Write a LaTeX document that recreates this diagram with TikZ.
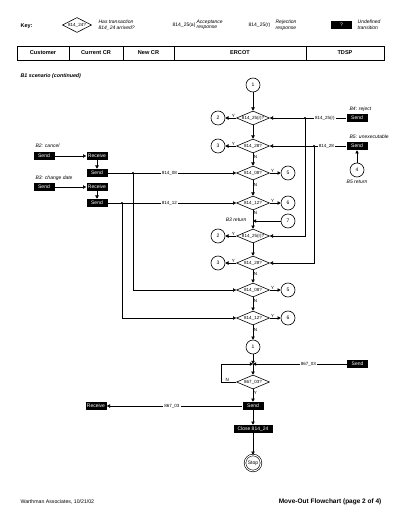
\documentclass[tikz,border=0pt]{standalone}
\usepackage{fontspec}
\setmainfont{Liberation Sans}
\usetikzlibrary{shapes.geometric,arrows.meta}
\begin{document}
\begin{tikzpicture}[x=1pt,y=-1pt, line width=0.6pt,
  font=\fontsize{5}{5.6}\selectfont,
  dia/.style={diamond, draw, fill=white, minimum width=33pt, minimum height=14pt, inner sep=0pt},
  dtx/.style={font=\fontsize{4.5}{5}\selectfont, inner sep=0pt},
  blk/.style={fill=black, text=white, minimum width=21pt, minimum height=8pt, inner sep=0pt},
  circ/.style={circle, draw, fill=white, minimum size=14pt, inner sep=0pt},
  yn/.style={font=\fontsize{4.5}{5}\selectfont, inner sep=0.5pt},
  lbl/.style={fill=white, inner sep=1.2pt, font=\fontsize{4.5}{5}\selectfont},
  arr/.style={-{Triangle[length=3.2pt,width=3.4pt]}},
  dot/.style={circle, fill, inner sep=0pt, minimum size=2.4pt},
  it/.style={font=\fontsize{5}{5.6}\selectfont\itshape},
  hdr/.style={draw, minimum height=14pt, inner sep=0pt, font=\fontsize{5.6}{6}\selectfont\bfseries}]
\useasboundingbox (0,0) rectangle (400,518);

% key
\node[anchor=west, font=\fontsize{5.5}{6}\selectfont\bfseries] (key) at (17,26) {Key:};
\node[dia, minimum width=29pt, minimum height=15pt, label={[dtx]center:{814\_24?}}] (kd) at (77,25) {};
\node[anchor=west, align=left, it] (kdt) at (95,25) {Has transaction\\814\_24 arrived?};
\node[anchor=west] (ka) at (169,25) {814\_25(a)};
\node[anchor=west, align=left, it] (kat) at (193,25) {Acceptance\\response};
\node[anchor=west] (kr) at (245,25) {814\_25(r)};
\node[anchor=west, align=left, it] (krt) at (272,25) {Rejection\\response};
\node[blk] (kq) at (341.5,25) {?};
\node[anchor=west, align=left, it] (kqt) at (354,25) {Undefined\\transition};

% header
\node[hdr, minimum width=52pt] (hcu) at (43,53) {Customer};
\node[hdr, minimum width=54pt] (hcc) at (96,53) {Current CR};
\node[hdr, minimum width=51pt] (hnc) at (148.5,53) {New CR};
\node[hdr, minimum width=132pt] (her) at (240,53) {ERCOT};
\node[hdr, minimum width=78pt] (htd) at (345,53) {TDSP};

\node[anchor=west, font=\fontsize{5.3}{6}\selectfont\bfseries\itshape] (ttl) at (17,76) {B1 scenario (continued)};

% main column
\node[circ] (c1) at (253,85) {1};
\node[dia, label={[dtx]center:{814\_25(r)?}}] (d1) at (253,118) {};
\node[circ] (c2a) at (218,118) {2};
\node[dia, label={[dtx]center:{814\_28?}}] (d2) at (253,146) {};
\node[circ] (c3a) at (218,146) {3};
\node[dia, label={[dtx]center:{814\_08?}}] (d3) at (253,173) {};
\node[circ] (c5a) at (288,173) {5};
\node[dia, label={[dtx]center:{814\_12?}}] (d4) at (253,203) {};
\node[circ] (c6a) at (288,203) {6};
\node[circ] (c7) at (288,221) {7};
\coordinate (j7) at (253,221);
\node[it, anchor=east] (b3r) at (250,219.5) {B3 return};
\node[dia, label={[dtx]center:{814\_25(r)?}}] (d5) at (253,236) {};
\node[circ] (c2b) at (218,236) {2};
\node[dia, label={[dtx]center:{814\_28?}}] (d6) at (253,263) {};
\node[circ] (c3b) at (218,263) {3};
\node[dia, label={[dtx]center:{814\_08?}}] (d7) at (253,290) {};
\node[circ] (c5b) at (288,290) {5};
\node[dia, label={[dtx]center:{814\_12?}}] (d8) at (253,318) {};
\node[circ] (c6b) at (288,318) {6};
\node[circ] (c1b) at (253,347) {1};
\coordinate (j) at (253,364);
\node[dia, label={[dtx]center:{867\_03?}}] (d9) at (253,382) {};
\node[blk] (s5) at (253,406) {Send};
\node[blk, minimum width=39pt] (close) at (253,429) {Close 814\_24};
\node[circle, draw, double, double distance=1pt, minimum size=16pt, inner sep=0pt] (stop) at (253,463) {Stop};
\node[blk] (r3) at (96,406) {Receive};

% right side
\node[it, anchor=west] (b4) at (346,109) {B4: reject};
\node[blk] (s1) at (357,118) {Send};
\node[it, anchor=west] (b5) at (346,137) {B5: unexecutable};
\node[blk] (s2) at (357,146) {Send};
\node[circ] (c4) at (357,170) {4};
\node[it] (b5r) at (357,182) {B5 return};
\node[dot] (p3) at (305,118) {};
\node[dot] (p4) at (314,146) {};
\node[blk] (s6) at (357.5,364) {Send};

% left side
\node[it, anchor=west] (b2) at (32,146) {B2: cancel};
\node[blk] (s3) at (44,156) {Send};
\node[blk] (r1) at (97,156) {Receive};
\node[blk] (s4) at (97,173) {Send};
\node[it, anchor=west] (b3) at (32,178.5) {B3: change date};
\node[blk] (s7) at (44,187) {Send};
\node[blk] (r2) at (97,187) {Receive};
\node[blk] (s8) at (97,203) {Send};
\node[dot] (p1) at (133,173) {};
\node[dot] (p2) at (122,203) {};

% connectors main
\draw[arr] (c1) -- (d1);
\draw[arr] (d1) -- (d2);
\draw[arr] (d1.west) -- node[yn, above, pos=0.25]{Y} (c2a);
\draw[arr] (d2.west) -- node[yn, above, pos=0.25]{Y} (c3a);
\draw[arr] (d2) -- node[yn, right, pos=0.3]{N} (d3);
\draw[arr] (d3.east) -- node[yn, above, pos=0.25]{Y} (c5a);
\draw[arr] (d3) -- node[yn, right, pos=0.3]{N} (d4);
\draw[arr] (d4.east) -- node[yn, above, pos=0.25]{Y} (c6a);
\draw[arr] (d4) -- node[yn, right, pos=0.12]{N} (d5);
\draw[arr] (c7) -- (j7);
\draw[arr] (d5.west) -- node[yn, above, pos=0.25]{Y} (c2b);
\draw[arr] (d5) -- (d6);
\draw[arr] (d6.west) -- node[yn, above, pos=0.25]{Y} (c3b);
\draw[arr] (d6) -- node[yn, right, pos=0.3]{N} (d7);
\draw[arr] (d7.east) -- node[yn, above, pos=0.25]{Y} (c5b);
\draw[arr] (d7) -- node[yn, right, pos=0.3]{N} (d8);
\draw[arr] (d8.east) -- node[yn, above, pos=0.25]{Y} (c6b);
\draw[arr] (d8) -- node[yn, right, pos=0.3]{N} (c1b);
\draw[arr] (c1b) -- (j);
\draw[arr] (j) -- (d9);
\draw[arr] (d9.west) -- ++(-15,0) node[yn, above, pos=0.6]{N} |- (j);
\draw[arr] (s6.west) -- node[lbl, pos=0.41]{867\_03} (j);
\draw[arr] (d9) -- node[yn, right, pos=0.3]{Y} (s5);
\draw[arr] (s5.west) -- node[lbl, pos=0.52]{867\_03} (r3.east);
\draw[arr] (s5) -- (close);
\draw[arr] (close) -- (stop);

% right connectors
\draw[arr] (s1.west) -- node[lbl, pos=0.28]{814\_25(r)} (d1.east);
\draw[arr] (p3) -- (p3 |- d5) -- (d5.east);
\draw[arr] (s2.west) -- node[lbl, pos=0.26]{814\_28} (d2.east);
\draw[arr] (p4) -- (p4 |- d6) -- (d6.east);
\draw[arr] (c4) -- (s2);

% left connectors
\draw[arr] (s3) -- (r1);
\draw[arr] (r1) -- (s4);
\draw[arr] (s7) -- (r2);
\draw[arr] (r2) -- (s8);
\draw[arr] (s4.east) -- node[lbl, pos=0.48]{814\_08} (d3.west);
\draw[arr] (s8.east) -- node[lbl, pos=0.48]{814\_12} (d4.west);
\draw[arr] (p1) -- (p1 |- d7) -- (d7.west);
\draw[arr] (p2) -- (p2 |- d8) -- (d8.west);

% footer
\node[anchor=west, font=\fontsize{5.2}{6}\selectfont] (ft) at (17,502) {Warthman Associates, 10/21/02};
\node[anchor=east, font=\fontsize{6.5}{7}\selectfont\bfseries] (ftt) at (385,502) {Move-Out Flowchart (page 2 of 4)};
\end{tikzpicture}
\end{document}
